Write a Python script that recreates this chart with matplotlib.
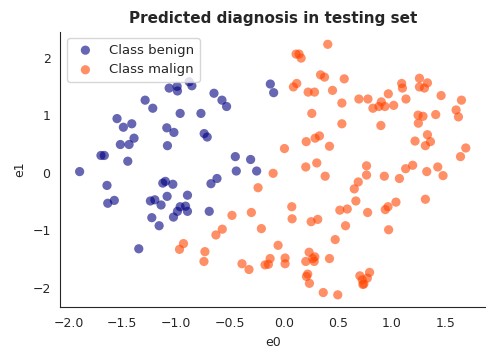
import matplotlib
matplotlib.use("Agg")
import matplotlib.pyplot as plt
import seaborn as sns
import numpy as np

sns.set_style("white")
plt.rcParams['font.family'] = ['DejaVu Sans']

benign_x = [-1.896, -1.698, -1.667, -1.449, -1.518, -1.437, -1.490, -1.549, -1.412, -1.391,
            -1.288, -1.217, -1.087, -1.021, -1.081, -1.065, -0.991, -0.988, -0.963, -0.879,
            -0.854, -0.770, -0.740, -0.712, -0.649, -0.575, -0.532, -0.451, -0.309, -0.442,
            -0.253, -0.126, -0.095, -1.642, -1.635, -1.574, -1.347, -1.100, -1.124, -1.031,
            -1.239, -1.198, -1.140, -1.084, -0.895, -1.226, -1.158, -1.025, -0.988, -0.963,
            -0.913, -0.895, -0.621, -0.677, -0.693]
benign_y = [0.02, 0.30, 0.30, 0.20, 0.49, 0.49, 0.79, 0.94, 0.85, 0.60,
            1.26, 1.12, 0.78, 0.70, 0.47, 1.47, 1.50, 1.42, 1.03, 1.58,
            1.51, 1.03, 0.68, 0.62, 1.38, 1.26, 1.15, 0.28, 0.23, 0.03,
            0.03, 1.54, 1.39, -0.22, -0.53, -0.48, -1.32, -0.15, -0.18, -0.20,
            -0.49, -0.47, -0.56, -0.41, -0.39, -0.78, -0.92, -0.77, -0.67, -0.59,
            -0.58, -0.67, -0.10, -0.19, -0.67]

malign_x = [-0.100, -0.240, -0.482, -0.302, -0.209, -0.572, -0.631, -0.932, -0.969, -0.733,
            -0.742, -0.389, -0.324, -0.175, -0.144, -0.128, -0.054, 0.407, 0.113, 0.141,
            0.160, 0.340, 0.377, 0.560, 0.119, 0.088, 0.225, 0.284, 0.451, 0.259,
            0.538, 0.538, 0.696, 0.780, 0.826, 0.882, 0.904, 0.938, 0.969, 1.019,
            0.900, 1.093, 1.100, 1.133, 1.258, 1.332, 1.258, 1.304, 1.459, 1.648,
            1.409, 1.598, 1.620, 1.245, 1.291, 1.248, 1.332, 1.360, 1.313, 1.217,
            1.688, 1.639, 0.005, 0.207, 0.290, 0.330, 0.423, 0.203, 0.305, 0.383,
            0.767, 0.767, 0.932, 1.072, 1.130, 1.195, 1.326, 1.428, 1.477, 0.073,
            0.076, 0.253, 0.314, 0.519, 0.588, 0.668, 0.653, 0.690, 0.777, 0.572,
            0.941, 0.966, 1.040, 1.313, 0.972, 0.476, 0.011, 0.011, 0.234, 0.203,
            0.268, 0.287, 0.281, 0.423, 0.221, 0.209, 0.237, 0.365, 0.500, 0.705,
            0.795, 0.774, 0.727, 0.733, 0.742]
malign_y = [-0.01, -0.26, -0.74, -0.69, -0.97, -0.98, -1.08, -1.23, -1.33, -1.37,
            -1.54, -1.58, -1.68, -1.60, -1.59, -1.49, -1.26, 2.23, 2.06, 2.06,
            1.99, 1.70, 1.66, 1.63, 1.55, 1.49, 1.40, 1.40, 1.43, 1.03,
            1.21, 0.85, 1.28, 1.28, 1.12, 1.15, 1.23, 1.15, 1.37, 1.17,
            0.82, 1.55, 1.47, 1.28, 1.64, 1.56, 1.49, 1.47, 1.34, 1.26,
            1.01, 1.09, 0.97, 1.00, 0.98, 0.86, 0.66, 0.54, 0.47, 0.55,
            0.43, 0.28, 0.42, 0.54, 0.60, 0.64, 0.46, 0.10, 0.17, -0.06,
            0.12, -0.04, -0.06, -0.10, 0.07, 0.13, 0.02, 0.10, -0.05, -0.59,
            -0.80, -0.85, -0.81, -0.65, -0.63, -0.49, -0.28, -0.16, -0.69, -0.92,
            -0.64, -0.59, -0.51, -0.46, -0.99, -1.16, -1.48, -1.58, -1.38, -1.54,
            -1.49, -1.46, -1.54, -1.49, -1.76, -1.80, -1.92, -2.08, -2.12, -1.79,
            -1.73, -1.83, -1.86, -1.94, -1.93]

labels = ["Class benign", "Class malign"]
colors = ["navy", "orangered"]

fig = plt.figure(figsize=(4.96, 3.57), dpi=100)
ax = fig.add_axes([0.1216, 0.139, 0.8564, 0.772])
ax.scatter(benign_x, benign_y, s=44, color=colors[0], alpha=0.6, edgecolors="none", label=labels[0])
ax.scatter(malign_x, malign_y, s=44, color=colors[1], alpha=0.6, edgecolors="none", label=labels[1])
ax.set_xticks([-2.0, -1.5, -1.0, -0.5, 0.0, 0.5, 1.0, 1.5])
ax.set_yticks([-2, -1, 0, 1, 2])
ax.tick_params(labelsize=9)
ax.set_xlabel("e0", fontsize=9)
ax.set_ylabel("e1", fontsize=9)
ax.set_title("Predicted diagnosis in testing set", fontsize=11, fontweight="bold")
ax.legend(loc="upper left", fontsize=9.5)
sns.despine(ax=ax)
fig.savefig("out.png", dpi=100)
